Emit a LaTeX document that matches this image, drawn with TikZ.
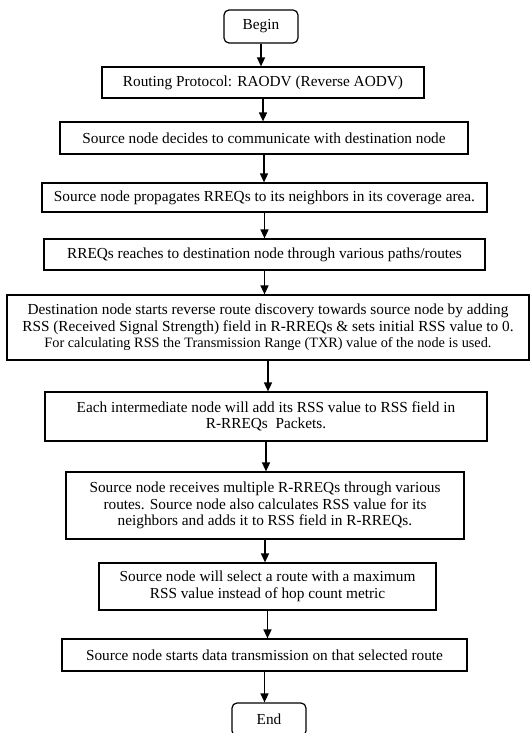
\documentclass[tikz,border=0pt]{standalone}
\usepackage{fontspec}
\setmainfont{Liberation Serif}
\usetikzlibrary{arrows.meta}
\begin{document}
\begin{tikzpicture}[x=1pt,y=-1pt,
  box/.style={draw, line width=1.2pt, inner sep=0pt, align=center,
    font=\fontsize{15.3}{16.5}\selectfont},
  term/.style={box, rounded corners=5pt},
  arr/.style={line width=1.5pt, -{Triangle[length=9pt,width=8pt]}}]
\useasboundingbox (0,0) rectangle (530,733);
\clip (0,0) rectangle (530,733);
\fill[white] (0,0) rectangle (530,733);
\node[term, minimum width=74pt, minimum height=33pt] (n0) at (261,26.5) {Begin};
\node[box, minimum width=322pt, minimum height=31pt] (n1) at (263,82.5) {Routing Protocol: RAODV (Reverse AODV)};
\node[box, minimum width=408pt, minimum height=32pt] (n2) at (264,138) {Source node decides to communicate with destination node};
\node[box, minimum width=445pt, minimum height=29pt] (n3) at (264.5,197.5) {Source node propagates RREQs to its neighbors in its coverage area.};
\node[box, minimum width=441pt, minimum height=31pt] (n4) at (264.5,254.5) {RREQs reaches to destination node through various paths/routes};
\node[box, minimum width=522pt, minimum height=65pt] (n5) at (268,327.5) {Destination node starts reverse route discovery towards source node by adding\\RSS (Received Signal Strength) field in R-RREQs \& sets initial RSS value to 0.\\{\fontsize{14.3}{15}\selectfont For calculating RSS the Transmission Range (TXR) value of the node is used.}};
\node[box, minimum width=442pt, minimum height=49pt] (n6) at (266,416.5) {Each intermediate node will add its RSS value to RSS field in\\R-RREQs\ \ Packets.};
\node[box, minimum width=398pt, minimum height=67pt] (n7) at (265,505.5) {Source node receives multiple R-RREQs through various\\routes. Source node also calculates RSS value for its\\neighbors and adds it to RSS field in R-RREQs.};
\node[box, minimum width=337pt, minimum height=47pt] (n8) at (267.5,586.5) {Source node will select a route with a maximum\\RSS value instead of hop count metric};
\node[box, minimum width=405pt, minimum height=32pt] (n9) at (264.5,655) {Source node starts data transmission on that selected route};
\node[term, minimum width=74pt, minimum height=33pt] (n10) at (269,719.5) {End};
\foreach \a/\b in {n0/n1,n1/n2,n2/n3,n3/n4,n4/n5,n5/n6,n6/n7,n7/n8,n8/n9,n9/n10}
  \draw[arr] (\a.south) -- (\a.south |- \b.north);
\end{tikzpicture}
\end{document}
